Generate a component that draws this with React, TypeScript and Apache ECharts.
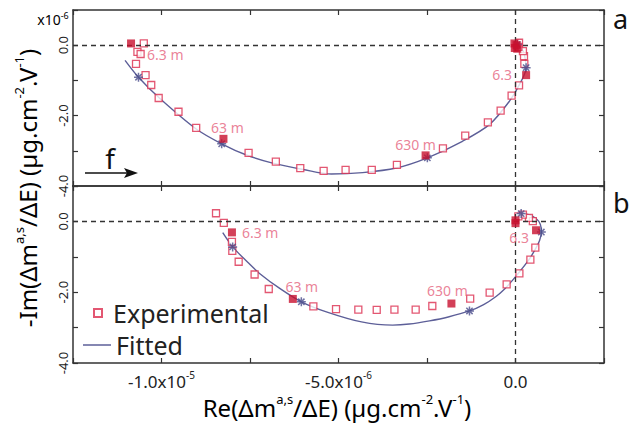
import React, { useEffect, useRef } from 'react';
import * as echarts from 'echarts';

const FONT = "'Noto Sans', 'Open Sans', sans-serif";

// Values in units of 1e-6 µg.cm-2.V-1  ([Re, -Im])
// Panel a
const topOpen = [
  [-10.5, 0.05], [-10.68, -0.19], [-10.59, -0.25], [-10.72, -0.53], [-10.45, -0.85],
  [-10.29, -1.13], [-10.08, -1.5], [-9.52, -1.89], [-9.02, -2.35], [-7.54, -3.06],
  [-6.77, -3.31], [-6.08, -3.49], [-5.42, -3.57], [-4.8, -3.54], [-4.06, -3.54],
  [-3.35, -3.4], [-2.05, -2.93], [-1.42, -2.57], [-0.78, -2.19], [-0.42, -1.86],
  [-0.11, -1.43], [0.1, -1.14], [0.25, -0.53], [0.24, -0.31], [0.21, -0.17],
  [0.1, 0.07], [0.08, -0.05]
];
const topFilled = [
  [-10.86, 0.05], [-8.25, -2.66], [-2.54, -3.13], [0.3, -0.85],
  [-0.03, 0.05], [0.03, 0.0], [-0.02, -0.08], [0.05, -0.1]
];
const topFilledLabels = ['6.3 m', '63 m', '630 m', '6.3'];
const topFit = [
  [-11.03, -0.43], [-10.65, -0.91], [-10.06, -1.5], [-9.02, -2.38], [-8.3, -2.8],
  [-7.6, -3.12], [-6.86, -3.35], [-6.0, -3.53], [-5.2, -3.66], [-4.32, -3.62],
  [-3.37, -3.49], [-2.49, -3.2], [-1.5, -2.73], [-0.73, -2.25], [-0.17, -1.59],
  [0.11, -1.12], [0.3, -0.64], [0.25, -0.26], [0.16, -0.08], [0.05, 0.02], [0, 0.04]
];
const topStars = [[-10.65, -0.91], [-8.3, -2.8], [-2.49, -3.2], [0.3, -0.64], [0.05, 0.02]];

// Panel b
const botOpen = [
  [-8.46, 0.23], [-8.24, -0.04], [-8.01, -0.58], [-8.0, -0.83], [-7.82, -1.14],
  [-7.37, -1.5], [-6.97, -1.91], [-5.71, -2.4], [-5.07, -2.48], [-4.44, -2.49],
  [-3.92, -2.5], [-3.42, -2.49], [-2.82, -2.49], [-2.35, -2.39], [-1.28, -2.18],
  [-0.73, -2.01], [-0.25, -1.78], [0.11, -1.47], [0.42, -1.08], [0.56, -0.74],
  [0.49, 0.01], [0.38, 0.1], [0.21, 0.19], [0.08, 0.14]
];
const botFilled = [[-8.01, -0.31], [-6.29, -2.19], [-1.81, -2.32], [0.58, -0.25], [0, 0.03], [0, -0.05]];
const botFilledLabels = ['6.3 m', '63 m', '630 m', '6.3'];
const botFit = [
  [-8.27, -0.32], [-7.99, -0.72], [-7.6, -1.12], [-7.23, -1.47], [-6.65, -1.9],
  [-6.05, -2.27], [-5.3, -2.57], [-4.35, -2.84], [-3.47, -2.93], [-3.0, -2.9],
  [-2.43, -2.81], [-1.9, -2.7], [-1.3, -2.53], [-0.9, -2.35], [-0.55, -2.12],
  [-0.3, -1.9], [-0.08, -1.66], [0.15, -1.38], [0.4, -1.05], [0.58, -0.75],
  [0.68, -0.54], [0.73, -0.3], [0.7, -0.08], [0.58, 0.08], [0.38, 0.19],
  [0.16, 0.22], [0.05, 0.16], [0.02, 0.1], [0, 0.03]
];
const botStars = [[-7.99, -0.72], [-6.05, -2.27], [-1.3, -2.53], [0.73, -0.3], [0.16, 0.22]];

const xTickLabels: Record<string, [string, string]> = {
  '-10': ['-1.0x10', '-5'],
  '-5': ['-5.0x10', '-6'],
  '0': ['0.0', '']
};
const yTickLabels: Record<string, string> = { '0': '0.0', '-2': '-2.0', '-4': '-4.0' };

const OPEN = '#dc2d4f';
const FILLED = '#c8102e';
const LABEL = '#e5627d';
const FIT = '#5d5f98';
const STAR = '#4b4e8c';
const AXIS = '#333';

const topLabelLayout = [
  { align: 'left', offset: [16, 11] },
  { align: 'center', offset: [4, -11] },
  { align: 'center', offset: [-10, -11] },
  { align: 'right', offset: [-14, -1] }
];
const botLabelLayout = [
  { align: 'left', offset: [10, 0] },
  { align: 'center', offset: [9, -12] },
  { align: 'center', offset: [-4, -13] },
  { align: 'center', offset: [-17, 7] }
];

const STAR_PATH = 'path://M5,0 L5,10 M0,5 L10,5 M1.5,1.5 L8.5,8.5 M8.5,1.5 L1.5,8.5';

function panelSeries(
  axisIdx: number, open: number[][], filled: number[][], labels: string[],
  layout: { align: string; offset: number[] }[], fit: number[][], stars: number[][]
) {
  return [
    {
      name: 'Fitted', type: 'line', xAxisIndex: axisIdx, yAxisIndex: axisIdx,
      data: fit, smooth: 0.3, symbol: 'none', z: 2,
      lineStyle: { color: FIT, width: 1.4 }, itemStyle: { color: FIT }
    },
    {
      name: 'Fitted points', type: 'scatter', xAxisIndex: axisIdx, yAxisIndex: axisIdx,
      data: stars, symbol: STAR_PATH, symbolSize: 9, z: 4,
      itemStyle: { color: 'rgba(0,0,0,0)', borderColor: STAR, borderWidth: 1.5 }
    },
    {
      name: 'Experimental', type: 'scatter', xAxisIndex: axisIdx, yAxisIndex: axisIdx,
      data: open, symbol: 'rect', symbolSize: 7, z: 3,
      itemStyle: { color: '#fff', borderColor: OPEN, borderWidth: 1.3 },
      markLine: {
        silent: true, symbol: 'none', label: { show: false },
        lineStyle: { type: [5, 4], color: AXIS, width: 1.3 },
        data: [{ xAxis: 0 }, { yAxis: 0 }]
      }
    },
    {
      name: 'Experimental (marked)', type: 'scatter', xAxisIndex: axisIdx, yAxisIndex: axisIdx,
      symbol: 'rect', symbolSize: 8, z: 5,
      itemStyle: { color: FILLED },
      data: filled.map((p, i) => ({
        value: p,
        label: labels[i]
          ? {
              show: true, formatter: labels[i], position: 'inside',
              align: layout[i].align, verticalAlign: 'middle', offset: layout[i].offset,
              color: LABEL, fontSize: 14, fontFamily: FONT
            }
          : { show: false }
      }))
    }
  ];
}

export default function App() {
  const ref = useRef<HTMLDivElement>(null);
  useEffect(() => {
    if (!ref.current) return;
    const chart = echarts.init(ref.current, null, { renderer: 'svg' });

    const xBase: any = {
      type: 'value', min: -12.5, max: 2.5, interval: 2.5,
      axisLine: { show: true, onZero: false, lineStyle: { color: AXIS, width: 1.5 } },
      axisTick: { show: true, inside: true, length: 5, lineStyle: { color: AXIS, width: 1.2 } },
      splitLine: { show: false }, axisLabel: { show: false }
    };
    const yBase: any = {
      type: 'value', min: -4, max: 1, interval: 1,
      axisLine: { show: true, onZero: false, lineStyle: { color: AXIS, width: 1.5 } },
      axisTick: { show: true, inside: true, length: 5, lineStyle: { color: AXIS, width: 1.2 } },
      splitLine: { show: false }, axisLabel: { show: false }
    };
    const yLabel = {
      show: true, rotate: 90, margin: 4, fontSize: 13, fontFamily: FONT, color: '#222',
      showMinLabel: true, showMaxLabel: true,
      formatter: (v: number) => yTickLabels[String(Math.round(v * 1000) / 1000)] || ''
    };
    const xLabel = {
      show: true, margin: 7, color: '#222',
      showMinLabel: true, showMaxLabel: true,
      formatter: (v: number) => {
        const t = xTickLabels[String(Math.round(v * 1000) / 1000)];
        if (!t) return '';
        return t[1] ? `{n|${t[0]}}{s|${t[1]}}` : `{n|${t[0]}}`;
      },
      rich: {
        n: { fontSize: 17, fontFamily: FONT, color: '#222', lineHeight: 22 },
        s: { fontSize: 10, fontFamily: FONT, color: '#222', verticalAlign: 'top', lineHeight: 12 }
      }
    };

    const sup = { fontSize: 13, fontFamily: FONT, color: '#222', verticalAlign: 'top', lineHeight: 14 };
    const main = { fontSize: 24, fontFamily: FONT, color: '#222', lineHeight: 30 };

    chart.setOption({
      animation: false,
      grid: [
        { left: 73, top: 10, width: 531, height: 176 },
        { left: 73, top: 186, width: 531, height: 177 }
      ],
      xAxis: [
        { ...xBase, gridIndex: 0, position: 'bottom' },
        { ...xBase, gridIndex: 0, position: 'top' },
        { ...xBase, gridIndex: 1, position: 'bottom', axisLabel: xLabel },
        { ...xBase, gridIndex: 1, position: 'top' }
      ],
      yAxis: [
        { ...yBase, gridIndex: 0, position: 'left', axisLabel: yLabel },
        { ...yBase, gridIndex: 0, position: 'right' },
        { ...yBase, gridIndex: 1, position: 'left', axisLabel: yLabel },
        { ...yBase, gridIndex: 1, position: 'right' }
      ],
      legend: [
        {
          data: ['Experimental'], left: 93, top: 300, padding: 0, itemWidth: 8, itemHeight: 8,
          selectedMode: false,
          textStyle: { fontSize: 25, lineHeight: 26, fontFamily: FONT, color: '#222', padding: [0, 0, 0, 6] }
        },
        {
          data: [{ name: 'Fitted', icon: 'rect' }], left: 83, top: 332, padding: 0,
          itemWidth: 28, itemHeight: 1.5, selectedMode: false,
          itemStyle: { color: FIT },
          textStyle: { fontSize: 25, lineHeight: 26, fontFamily: FONT, color: '#222' }
        }
      ],
      series: [
        ...panelSeries(0, topOpen, topFilled, topFilledLabels, topLabelLayout, topFit, topStars),
        ...panelSeries(2, botOpen, botFilled, botFilledLabels, botLabelLayout, botFit, botStars)
      ],
      graphic: [
        {
          type: 'text', x: 27, y: 188, rotation: Math.PI / 2,
          style: {
            text: '{m|-Im(Δm}{s|a,s}{m|/ΔE) (µg.cm}{s|-2}{m|.V}{s|-1}{m|)}',
            rich: { m: main, s: sup }, align: 'center', verticalAlign: 'middle'
          }
        },
        {
          type: 'text', x: 337, y: 407,
          style: {
            text: '{m|Re(Δm}{s|a,s}{m|/ΔE) (µg.cm}{s|-2}{m|.V}{s|-1}{m|)}',
            rich: { m: main, s: sup }, align: 'center', verticalAlign: 'middle'
          }
        },
        {
          type: 'text', x: 53, y: 19,
          style: {
            text: '{m|x10}{s|-6}',
            rich: {
              m: { fontSize: 14, fontFamily: FONT, color: '#222', lineHeight: 16 },
              s: { fontSize: 9, fontFamily: FONT, color: '#222', verticalAlign: 'top', lineHeight: 10 }
            },
            align: 'center', verticalAlign: 'middle'
          }
        },
        {
          type: 'line', shape: { x1: 85, y1: 173, x2: 130, y2: 173 },
          style: { stroke: '#111', lineWidth: 1.6 }
        },
        {
          type: 'polygon', shape: { points: [[138, 173], [124, 168], [127, 173], [124, 178]] },
          style: { fill: '#111' }
        },
        {
          type: 'text', x: 110, y: 158,
          style: { text: 'f', fontSize: 28, fontFamily: FONT, fill: '#111', align: 'center', verticalAlign: 'middle' }
        },
        {
          type: 'text', x: 613, y: 18,
          style: { text: 'a', fontSize: 27, fontFamily: FONT, fill: '#111', align: 'left', verticalAlign: 'middle' }
        },
        {
          type: 'text', x: 613, y: 202,
          style: { text: 'b', fontSize: 27, fontFamily: FONT, fill: '#111', align: 'left', verticalAlign: 'middle' }
        }
      ]
    });
    return () => chart.dispose();
  }, []);
  return <div ref={ref} style={{ width: 630, height: 428, position: 'absolute', left: 0, top: 0 }} />;
}
